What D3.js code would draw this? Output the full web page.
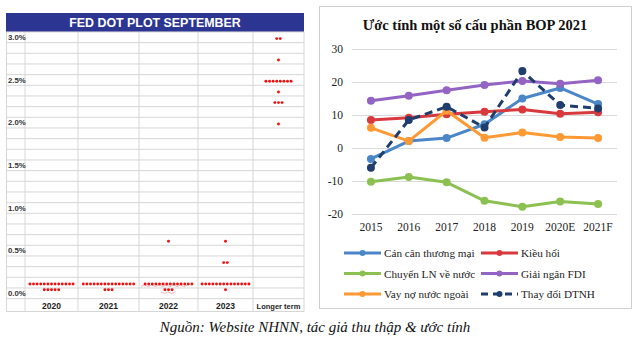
<!DOCTYPE html>
<html>
<head>
<meta charset="utf-8">
<script src="https://cdn.jsdelivr.net/npm/d3@7"></script>
<style>
  body { margin: 0; background: #fff; }
  svg { display: block; }
</style>
</head>
<body>
<svg id="chart" width="640" height="337"></svg>
<script>
// ---- left: FED dot plot ----
var dotCols = ["2020", "2021", "2022", "2023", "Longer term"];
var rateTicks = [3.0, 2.5, 2.0, 1.5, 1.0, 0.5, 0.0];
// one entry per row of dots: column, rate, number of dots, wrapped line (0/1)
var dotCol   = [0, 0, 1, 1, 2, 2, 2, 3, 3, 3, 3, 4, 4, 4, 4, 4, 4];
var dotRate  = [0.125, 0.125, 0.125, 0.125, 0.125, 0.125, 0.625, 0.125, 0.125, 0.375, 0.625, 3.0, 2.75, 2.5, 2.375, 2.25, 2.0];
var dotCount = [13, 5, 15, 3, 14, 3, 1, 14, 1, 2, 1, 2, 1, 8, 1, 3, 1];
var dotWrap  = [0, 1, 0, 1, 0, 1, 0, 0, 1, 0, 0, 0, 0, 0, 0, 0, 0];

// ---- right: BOP components ----
var years = ["2015", "2016", "2017", "2018", "2019", "2020E", "2021F"];
var canCan  = [-3.3, 2.1, 3.0, 7.2, 15.0, 18.2, 13.3];
var kieuHoi = [8.5, 9.2, 10.2, 11.0, 11.7, 10.4, 10.8];
var chuyenLN = [-10.2, -8.8, -10.4, -16.0, -17.8, -16.2, -17.0];
var giaiNgan = [14.3, 15.8, 17.5, 19.1, 20.3, 19.5, 20.5];
var vayNo   = [6.1, 2.1, 11.3, 3.1, 4.7, 3.3, 3.0];
var dtnh    = [-6.0, 8.5, 12.5, 6.2, 23.3, 13.0, 12.0];
var bopTicks = [30, 20, 10, 0, -10, -20];

var series = [
  { name: "Cán cân thương mại", values: canCan,  color: "#4a86c8", dash: null },
  { name: "Kiều hối",           values: kieuHoi, color: "#d8393d", dash: null },
  { name: "Chuyển LN về nước",  values: chuyenLN, color: "#8cc152", dash: null },
  { name: "Giải ngân FDI",      values: giaiNgan, color: "#9464c4", dash: null },
  { name: "Vay nợ nước ngoài",  values: vayNo,   color: "#ff9933", dash: null },
  { name: "Thay đổi DTNH",      values: dtnh,    color: "#1f3d6d", dash: "8,5" }
];

var svg = d3.select("#chart");

function drawDotPlot()
{
  var g = svg.append("g");
  var GRID = "#d6d6d6";
  var colX = d3.scaleLinear().domain([0, 1, 2, 3, 4, 5]).range([25, 78, 139, 198, 253, 304]);
  var rowY = d3.scaleLinear().domain([3.0, 0]).range([37.3, 293.3]);
  var step = rowY(0) - rowY(0.125);
  var top = rowY(3.0) - step / 2;

  // header bar
  g.append("rect").attr("x", 6).attr("y", 13).attr("width", 298).attr("height", 19)
    .attr("fill", "#2c3592");
  g.append("text").attr("x", 155).attr("y", 27).attr("text-anchor", "middle")
    .attr("font-family", "Arial, 'Liberation Sans', sans-serif").attr("font-weight", "bold")
    .attr("font-size", 12.4).attr("fill", "#fff").text("FED DOT PLOT SEPTEMBER");

  // horizontal cell lines
  var rows = d3.range(0, 26);
  g.selectAll("line.h").data(rows).enter().append("line")
    .attr("x1", 6).attr("x2", 304)
    .attr("y1", function(d) { return top + d * step; })
    .attr("y2", function(d) { return top + d * step; })
    .attr("stroke", GRID).attr("stroke-width", 1);
  g.append("line").attr("x1", 6).attr("x2", 304).attr("y1", 311.5).attr("y2", 311.5)
    .attr("stroke", GRID);

  // vertical cell lines
  g.selectAll("line.v").data([0, 1, 2, 3, 4, 5]).enter().append("line")
    .attr("x1", function(d) { return colX(d); }).attr("x2", function(d) { return colX(d); })
    .attr("y1", top).attr("y2", 311.5).attr("stroke", GRID);
  g.append("line").attr("x1", 6.5).attr("x2", 6.5).attr("y1", top).attr("y2", 311.5).attr("stroke", GRID);

  // rate labels
  g.selectAll("text.rate").data(rateTicks).enter().append("text")
    .attr("x", 8).attr("y", function(d) { return rowY(d) + 2.8; })
    .attr("font-family", "Arial, 'Liberation Sans', sans-serif").attr("font-weight", "bold")
    .attr("font-size", 7.8).attr("fill", "#333")
    .text(function(d) { return d.toFixed(1) + "%"; });

  // column labels
  g.selectAll("text.col").data(dotCols).enter().append("text")
    .attr("x", function(d, i) { return (colX(i) + colX(i + 1)) / 2; })
    .attr("y", 308.5).attr("text-anchor", "middle")
    .attr("font-family", "Arial, 'Liberation Sans', sans-serif").attr("font-weight", "bold")
    .attr("font-size", function(d) { return d.length > 4 ? 7.5 : 8.5; })
    .attr("fill", "#222").text(function(d) { return d; });

  // dots
  var dots = [];
  dotCol.forEach(function(c, k) {
    var n = dotCount[k];
    for (var i = 0; i < n; i++) {
      dots.push({ c: c, r: dotRate[k], off: i - (n - 1) / 2, wrap: dotWrap[k] });
    }
  });

  // spell-check squiggle under the 2022 rows
  var sq = d3.range(0, 14).map(function(i) { return [141 + i * 3.6, (i % 2) ? 0 : 1.5]; });
  [285, 292].forEach(function(yy, j) {
    var pts = sq.filter(function(p, i) { return j === 0 || (i > 4 && i < 10); });
    g.append("path")
      .attr("d", d3.line().x(function(p) { return p[0] + (j ? 2 : 0); }).y(function(p) { return yy + p[1]; })(pts))
      .attr("fill", "none").attr("stroke", "#f0a0a0").attr("stroke-width", 0.8);
  });

  g.selectAll("circle.dot").data(dots).enter().append("circle")
    .attr("cx", function(d) { return (colX(d.c) + colX(d.c + 1)) / 2 + d.off * 3.6; })
    .attr("cy", function(d) { return rowY(d.r) + 1.3 + d.wrap * 5.8; })
    .attr("r", 1.45).attr("fill", "#f01010");
}

function drawBop()
{
  var g = svg.append("g");
  var serif = "'Liberation Serif', 'Times New Roman', serif";

  g.append("rect").attr("x", 319.5).attr("y", 6.5).attr("width", 312).attr("height", 302)
    .attr("fill", "#fff").attr("stroke", "#d0d0d0");

  g.append("text").attr("x", 475).attr("y", 30).attr("text-anchor", "middle")
    .attr("font-family", serif).attr("font-weight", "bold").attr("font-size", 14.5)
    .attr("fill", "#111").text("Ước tính một số cấu phần BOP 2021");

  var x = d3.scaleBand().domain(years).range([352, 617]);
  var y = d3.scaleLinear().domain([-20, 30]).range([214, 49]);
  var cx = function(d, i) { return x(years[i]) + x.bandwidth() / 2; };

  g.selectAll("line.grid").data(bopTicks).enter().append("line")
    .attr("x1", 352).attr("x2", 617)
    .attr("y1", function(d) { return Math.round(y(d)) + 0.5; })
    .attr("y2", function(d) { return Math.round(y(d)) + 0.5; })
    .attr("stroke", "#d9d9d9");

  g.selectAll("text.ytick").data(bopTicks).enter().append("text")
    .attr("x", 343).attr("y", function(d) { return y(d) + 4; })
    .attr("text-anchor", "end").attr("font-family", serif).attr("font-size", 11.5)
    .attr("fill", "#222").text(function(d) { return d; });

  g.selectAll("text.xtick").data(years).enter().append("text")
    .attr("x", function(d) { return x(d) + x.bandwidth() / 2; }).attr("y", 231)
    .attr("text-anchor", "middle").attr("font-family", serif).attr("font-size", 11.5)
    .attr("fill", "#222").text(function(d) { return d; });

  var line = d3.line().x(cx).y(function(d) { return y(d); });

  series.forEach(function(s) {
    g.append("path").attr("d", line(s.values)).attr("fill", "none")
      .attr("stroke", s.color).attr("stroke-width", 3)
      .attr("stroke-dasharray", s.dash).attr("stroke-linejoin", "round");
    g.selectAll(null).data(s.values).enter().append("circle")
      .attr("cx", cx).attr("cy", function(d) { return y(d); })
      .attr("r", 4).attr("fill", s.color);
  });

  // legend
  var lg = g.selectAll("g.leg").data(series).enter().append("g")
    .attr("transform", function(d, i) {
      return "translate(" + (i % 2 ? 481 : 344) + "," + (253 + Math.floor(i / 2) * 20.5) + ")";
    });
  lg.append("line").attr("x1", 0).attr("x2", 37).attr("y1", 0).attr("y2", 0)
    .attr("stroke", function(d) { return d.color; }).attr("stroke-width", 3)
    .attr("stroke-dasharray", function(d) { return d.dash ? "7,5" : null; });
  lg.append("circle").attr("cx", 18.5).attr("cy", 0).attr("r", 3)
    .attr("fill", function(d) { return d.color; });
  lg.append("text").attr("x", 40).attr("y", 4.2)
    .attr("font-family", serif).attr("font-size", 11.2).attr("fill", "#222")
    .text(function(d) { return d.name; });
}

drawDotPlot();
drawBop();

svg.append("text").attr("x", 315).attr("y", 332).attr("text-anchor", "middle")
  .attr("font-family", "'Liberation Serif', 'Times New Roman', serif").attr("font-style", "italic")
  .attr("font-size", 15).attr("fill", "#111")
  .text("Nguồn: Website NHNN, tác giả thu thập & ước tính");
</script>
</body>
</html>
